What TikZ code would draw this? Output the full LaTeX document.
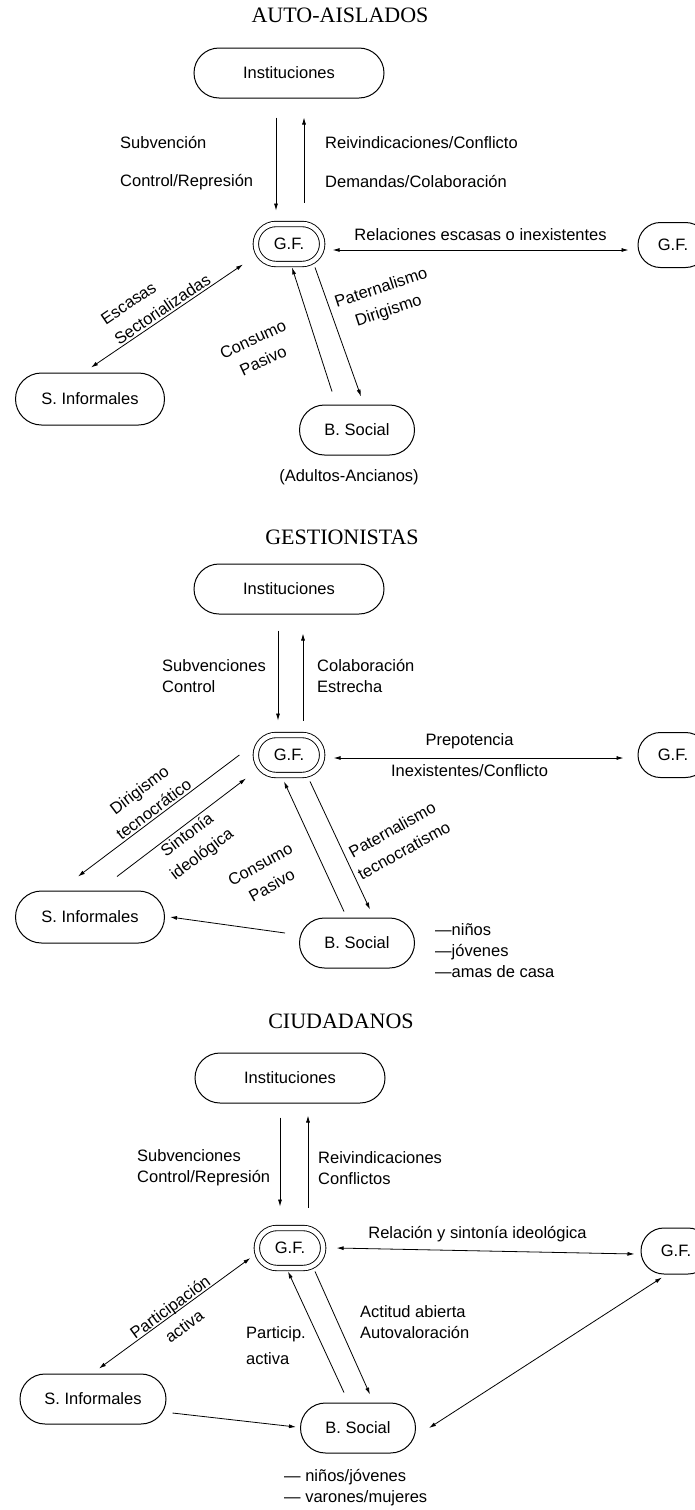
\documentclass[tikz,border=0pt]{standalone}
\usepackage{fontspec}
\setsansfont{Liberation Sans}
\newfontfamily\ttlfont{Liberation Serif}
\newcommand\lblfont{\sffamily\fontsize{16.5}{21}\selectfont}
\usetikzlibrary{shapes.misc,arrows.meta}

\begin{document}
\begin{tikzpicture}[x=1pt,y=-1pt,
  box/.style={draw, rounded rectangle, line width=1pt, minimum height=50pt, inner xsep=6pt, font=\lblfont},
  gfbox/.style={draw, rounded rectangle, double, double distance=4.5pt, line width=0.9pt,
    minimum width=73pt, minimum height=40pt, font=\lblfont},
  lbl/.style={font=\lblfont, inner sep=2pt},
  ttl/.style={font=\ttlfont\fontsize{22}{26}\selectfont},
  arr/.style={-{Latex[length=7pt,width=4pt]}, line width=0.8pt},
  arrb/.style={{Latex[length=7pt,width=4pt]}-, line width=0.8pt},
  arrd/.style={{Latex[length=7pt,width=4pt]}-{Latex[length=7pt,width=4pt]}, line width=0.8pt}]
\useasboundingbox[fill=white] (0,0) rectangle (695,1510);

% AUTO-AISLADOS
\node[ttl] (t1) at (340,15) {AUTO-AISLADOS};
\node[box, minimum width=202pt] (inst1) at (289,73) {Instituciones};
\node[gfbox] (gf1) at (289,244) {G.F.};
\node[box, minimum width=82pt, minimum height=45pt] (gfr1) at (673,245) {G.F.};
\node[box, minimum width=161pt, minimum height=52pt] (si1) at (90,399) {S. Informales};
\node[box, minimum width=127pt] (bs1) at (357,430) {B. Social};
\node[lbl] (ad1) at (349,477) {(Adultos-Ancianos)};

\draw[arr] ([xshift=-13pt,yshift=-19pt]inst1.south) -- ([xshift=-13pt,yshift=13pt]gf1.north);
\draw[arr] ([xshift=15pt,yshift=21pt]gf1.north) -- ([xshift=15pt,yshift=-19pt]inst1.south);
\node[lbl, anchor=west] (sub1) at (118,143) {Subvención};
\node[lbl, anchor=west] (con1) at (118,182) {Control/Represión};
\node[lbl, anchor=west] (rei1) at (323,143) {Reivindicaciones/Conflicto};
\node[lbl, anchor=west] (dem1) at (323,182) {Demandas/Colaboración};

\draw[arrd] ([xshift=10pt,yshift=-6pt]gf1.east) -- node[lbl, above=7pt] (rel1) {Relaciones escasas o inexistentes} ([xshift=-9pt,yshift=-5pt]gfr1.west);
\draw[arrd] ([xshift=1pt,yshift=5pt]si1.north) -- node[lbl, sloped, above, align=left] (esc1) {Escasas\\[3pt]Sectorializadas} ([xshift=-46pt]gf1.south);
\draw[arr] ([xshift=-25pt,yshift=13pt]bs1.north) -- ([xshift=3pt,yshift=-3pt]gf1.south);
\draw[arr] ([xshift=26pt,yshift=-3pt]gf1.south) -- ([xshift=4pt,yshift=8pt]bs1.north);
\node[lbl, rotate=25, align=center] (cp1) at (258,350) {Consumo\\[3pt]Pasivo};
\node[lbl, rotate=18, align=center] (pd1) at (385,300) {Paternalismo\\[3pt]Dirigismo};

% GESTIONISTAS
\node[ttl] (t2) at (342,537) {GESTIONISTAS};
\node[box, minimum width=202pt] (inst2) at (289,589) {Instituciones};
\node[gfbox] (gf2) at (289,755) {G.F.};
\node[box, minimum width=82pt, minimum height=45pt] (gfr2) at (673,755) {G.F.};
\node[box, minimum width=161pt, minimum height=52pt] (si2) at (90,917) {S. Informales};
\node[box, minimum width=127pt] (bs2) at (357,943) {B. Social};
\node[lbl, anchor=west, align=left] (lst2) at (433,951) {—niños\\—jóvenes\\—amas de casa};

\draw[arr] ([xshift=-11pt,yshift=-16pt]inst2.south) -- ([xshift=-11pt,yshift=14pt]gf2.north);
\draw[arr] ([xshift=14pt,yshift=14pt]gf2.north) -- ([xshift=14pt,yshift=-19pt]inst2.south);
\node[lbl, anchor=west, align=left] (sc2) at (160,676) {Subvenciones\\Control};
\node[lbl, anchor=west, align=left] (ce2) at (315,676) {Colaboración\\Estrecha};

\draw[arrd] ([xshift=11pt,yshift=-3pt]gf2.east) -- node[lbl, above=7pt, xshift=-9pt] (pre2) {Prepotencia}
  node[lbl, below=4pt, xshift=-9pt] (inx2) {Inexistentes/Conflicto} ([xshift=-14pt,yshift=-3pt]gfr2.west);
\draw[arrb] ([xshift=-12pt,yshift=14pt]si2.north) -- node[lbl, sloped, above, align=center] (dir2) {Dirigismo\\[3pt]tecnocrático} ([xshift=-16pt]gf2.west);
\draw[arr] ([xshift=27pt,yshift=14pt]si2.north) -- node[lbl, sloped, below, align=center] (sin2) {Sintonía\\[3pt]ideológica} ([xshift=-43pt,yshift=-3pt]gf2.south);
\draw[arr] ([xshift=-13pt,yshift=6pt]bs2.north) -- ([xshift=-5pt,yshift=-6pt]gf2.south);
\draw[arr] ([xshift=21pt,yshift=-6pt]gf2.south) -- ([xshift=13pt,yshift=8pt]bs2.north);
\draw[arr] ([xshift=-14pt,yshift=10pt]bs2.west) -- ([xshift=5pt]si2.east);
\node[lbl, rotate=29, align=center] (cp2) at (266,875) {Consumo\\[3pt]Pasivo};
\node[lbl, rotate=29, align=center] (pt2) at (398,840) {Paternalismo\\[3pt]tecnocratismo};

% CIUDADANOS
\node[ttl] (t3) at (341,1021) {CIUDADANOS};
\node[box, minimum width=202pt] (inst3) at (290,1078) {Instituciones};
\node[gfbox] (gf3) at (290,1248) {G.F.};
\node[box, minimum width=82pt, minimum height=46pt] (gfr3) at (676,1251) {G.F.};
\node[box, minimum width=158pt, minimum height=50pt] (si3) at (93,1399) {S. Informales};
\node[box, minimum width=127pt] (bs3) at (358,1428) {B. Social};
\node[lbl, anchor=west, align=left] (lst3) at (282,1488) {— niños/jóvenes\\— varones/mujeres};

\draw[arr] ([xshift=-10pt,yshift=-14pt]inst3.south) -- ([xshift=-10pt,yshift=21pt]gf3.north);
\draw[arr] ([xshift=18pt,yshift=20pt]gf3.north) -- ([xshift=18pt,yshift=-12pt]inst3.south);
\node[lbl, anchor=west, align=left] (sc3) at (135,1168) {Subvenciones\\Control/Represión};
\node[lbl, anchor=west, align=left] (rc3) at (316,1168) {Reivindicaciones\\Conflictos};

\draw[arrd] ([xshift=13pt]gf3.east) -- node[lbl, above=7pt, xshift=-8pt] (rs3) {Relación y sintonía ideológica} ([xshift=-6pt,yshift=-3pt]gfr3.west);
\draw[arrd] ([xshift=6pt,yshift=5pt]si3.north) -- node[lbl, sloped, align=center, yshift=-4pt] (pa3) {Participación\\[3pt]activa} ([xshift=-6pt,yshift=-10pt]gf3.west);
\draw[arr] ([xshift=-14pt,yshift=10pt]bs3.north) -- ([xshift=-2pt,yshift=-3pt]gf3.south);
\draw[arr] ([xshift=25pt,yshift=-3pt]gf3.south) -- ([xshift=12pt,yshift=8pt]bs3.north);
\node[lbl, anchor=west, align=left] (pc3) at (244,1346) {Particip.\\[5pt]activa};
\node[lbl, anchor=west, align=left] (aa3) at (358,1322) {Actitud abierta\\Autovaloración};
\draw[arr] ([xshift=6pt,yshift=-14pt]si3.east) -- ([xshift=-4pt,yshift=1pt]bs3.west);
\draw[arrd] ([xshift=13pt]bs3.east) -- ([xshift=-14pt,yshift=-3pt]gfr3.south);
\end{tikzpicture}
\end{document}
